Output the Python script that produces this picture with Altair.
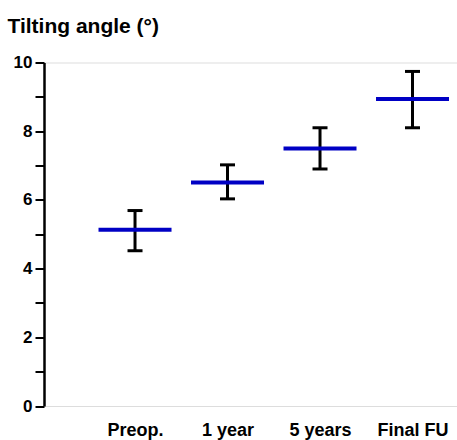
import altair as alt
import pandas as pd

categories = ["Preop.", "1 year", "5 years", "Final FU"]
means = [5.13, 6.51, 7.50, 8.94]
lows = [4.52, 6.03, 6.90, 8.10]
highs = [5.69, 7.02, 8.10, 9.74]
y_ticks = [0, 1, 2, 3, 4, 5, 6, 7, 8, 9, 10]

df = pd.DataFrame({
    "idx": list(range(len(categories))),
    "cat": categories,
    "mean": means,
    "lo": lows,
    "hi": highs,
})

FONT = "Liberation Sans"
label_expr = "[" + ",".join("'" + c + "'" for c in categories) + "][datum.value]"

x_axis = alt.Axis(
    values=[0, 1, 2, 3], labelExpr=label_expr, title=None, domain=False,
    ticks=False, tickSize=0, grid=False, labelPadding=15, labelFontSize=18,
    labelFont=FONT, labelFontWeight="bold", labelColor="black",
)
x_scale = alt.Scale(domain=[-0.984, 3.481], nice=False, zero=False)

y_scale = alt.Scale(domain=[0, 10], nice=False)
y_axis = alt.Axis(
    values=y_ticks,
    labelExpr="datum.value % 2 === 0 ? datum.label : ''",
    title="Tilting angle (°)",
    titleAngle=0, titleAlign="left", titleBaseline="alphabetic",
    titleX=-37, titleY=-30, titleFont=FONT, titleFontSize=21,
    titleFontWeight="bold", titleColor="black",
    grid=False, domainColor="black", domainWidth=2.5, tickColor="black",
    tickWidth=2, tickSize=9, labelPadding=3, labelFont=FONT,
    labelFontSize=17, labelFontWeight="bold", labelColor="black",
    labelOverlap=False, labelFlush=False,
)

base = alt.Chart(df)

rule = base.mark_rule(color="black", strokeWidth=3, opacity=1).encode(
    x=alt.X("idx:Q", scale=x_scale, axis=x_axis),
    y=alt.Y("lo:Q", scale=y_scale, axis=y_axis),
    y2="hi:Q",
)
cap_lo = base.mark_tick(color="black", size=15, thickness=3, orient="horizontal", opacity=1).encode(
    x=alt.X("idx:Q", scale=x_scale, axis=None),
    y=alt.Y("lo:Q", scale=y_scale, axis=None),
)
cap_hi = base.mark_tick(color="black", size=15, thickness=3, orient="horizontal", opacity=1).encode(
    x=alt.X("idx:Q", scale=x_scale, axis=None),
    y=alt.Y("hi:Q", scale=y_scale, axis=None),
)
mean_bar = base.mark_tick(color="#0000c4", size=73, thickness=4, orient="horizontal", opacity=1).encode(
    x=alt.X("idx:Q", scale=x_scale, axis=None),
    y=alt.Y("mean:Q", scale=y_scale, axis=None),
)

chart = alt.layer(rule, cap_lo, cap_hi, mean_bar).resolve_axis(
    x="independent", y="independent"
).properties(
    width=413, height=343.5,
    padding={"left": 44, "top": 62.5, "right": 0, "bottom": 34},
    autosize="none",
).configure_view(strokeWidth=0).configure(background="white")

chart.save("out.html", embed_options={"renderer": "svg", "actions": False})
